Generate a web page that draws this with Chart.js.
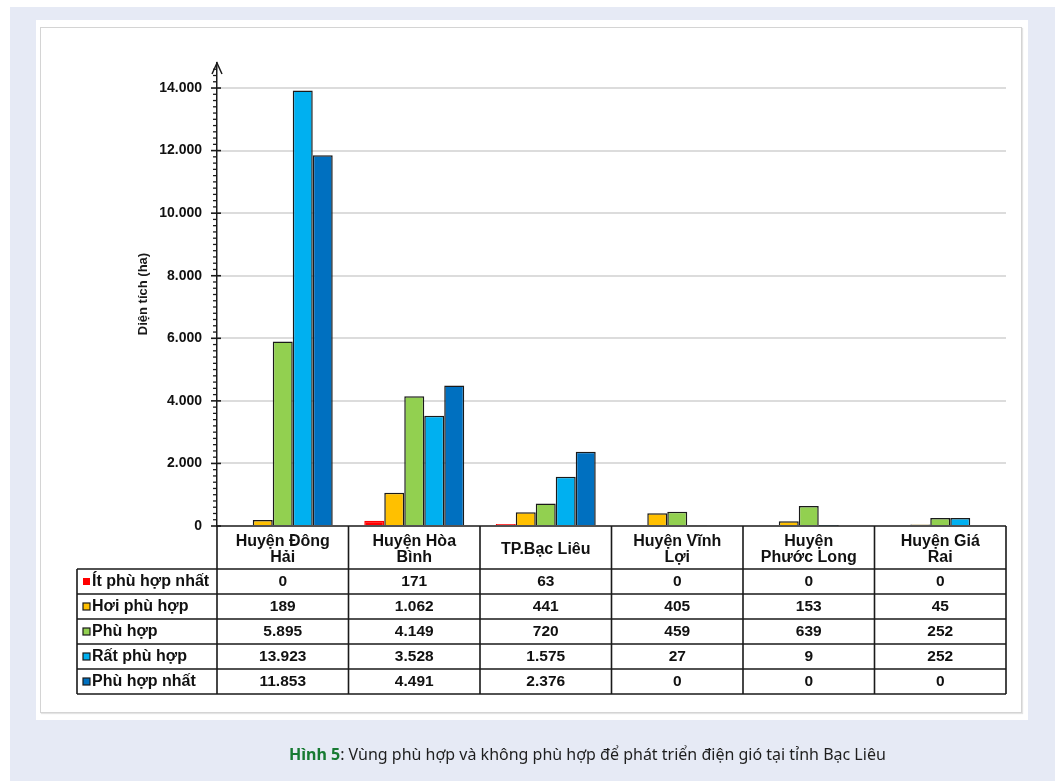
<!DOCTYPE html>
<html lang="vi">
<head>
<meta charset="utf-8">
<title>Diện tích phù hợp phát triển điện gió – Bạc Liêu</title>
<script src="https://cdn.jsdelivr.net/npm/chart.js@4.4.1/dist/chart.umd.min.js"></script>
<style>
  html, body { margin: 0; padding: 0; background: #ffffff; }
  body { width: 1058px; height: 781px; position: relative; overflow: hidden; }
  #page { position: absolute; left: 10px; top: 7px; width: 1045px; height: 774px; background: #e6eaf5; }
  #panel { position: absolute; left: 36px; top: 20px; width: 992px; height: 700px; background: #ffffff; }
  #frame { position: absolute; left: 40px; top: 27px; width: 980px; height: 684px; border: 1px solid #d4d4d4; box-shadow: 1px 1px 1px #e4e4e4; }
  #chartBox { position: absolute; left: 0; top: 0; width: 1058px; height: 781px; }
  #caption { position: absolute; left: 289px; top: 743px; font-family: "Noto Sans", "Open Sans", sans-serif; font-size: 16px; color: #1e1e1e; white-space: nowrap; }
  #caption b { color: #177a32; }
</style>
</head>
<body>
<div id="page"></div>
<div id="panel"></div>
<div id="frame"></div>
<div id="chartBox"><canvas id="chart" width="1058" height="781"></canvas></div>
<div id="caption"><b>Hình 5</b>: Vùng phù hợp và không phù hợp để phát triển điện gió tại tỉnh Bạc Liêu</div>
<script>
// Districts (table columns) – "\n" splits the header into two lines
const categories = ['Huyện Đông\nHải', 'Huyện Hòa\nBình', 'TP.Bạc Liêu', 'Huyện Vĩnh\nLợi', 'Huyện\nPhước Long', 'Huyện Giá\nRai'];

// Suitability classes
const seriesNames = ['Ít phù hợp nhất', 'Hơi phù hợp', 'Phù hợp', 'Rất phù hợp', 'Phù hợp nhất'];

// Area (ha) per class, one value per district
const itPhuHopNhat = [0, 171, 63, 0, 0, 0];
const hoiPhuHop    = [189, 1062, 441, 405, 153, 45];
const phuHop       = [5895, 4149, 720, 459, 639, 252];
const ratPhuHop    = [13923, 3528, 1575, 27, 9, 252];
const phuHopNhat   = [11853, 4491, 2376, 0, 0, 0];

// Labelled y-axis ticks
const yTickLabels = [0, 2000, 4000, 6000, 8000, 10000, 12000, 14000];

const seriesValues = [itPhuHopNhat, hoiPhuHop, phuHop, ratPhuHop, phuHopNhat];
const seriesColors = ['#ff0000', '#ffc000', '#92d050', '#00b0f0', '#0070c0'];
const seriesBorders = ['#ff0000', '#1a1a1a', '#1a1a1a', '#1a1a1a', '#1a1a1a'];

const fmt = v => String(v).replace(/\B(?=(\d{3})+(?!\d))/g, '.');

const FONT = '"Liberation Sans", Arial, sans-serif';
const LINE = '#1a1a1a';

const tablePlugin = {
  id: 'dataTable',
  afterDraw(chart) {
    const { ctx, chartArea } = chart;
    const xs = chart.scales.x, ys = chart.scales.y;
    const n = categories.length;
    const colW = (xs.right - xs.left) / n;
    const top = chartArea.bottom;
    const headerBottom = top + 43;
    const rowH = 25;
    const labelLeft = 77;
    const bottom = headerBottom + rowH * seriesNames.length;
    const left = xs.left, right = xs.right;

    ctx.save();

    // Y-axis arrow head
    ctx.strokeStyle = LINE;
    ctx.lineWidth = 1.5;
    ctx.beginPath();
    ctx.moveTo(left - 5, chartArea.top + 11);
    ctx.lineTo(left, chartArea.top);
    ctx.lineTo(left + 5, chartArea.top + 11);
    ctx.stroke();

    // Minor and major tick marks on the y axis
    for (let v = 0; v <= 14600; v += 200) {
      const y = ys.getPixelForValue(v);
      ctx.beginPath();
      if (v % 2000 === 0) { ctx.moveTo(left - 6, y); ctx.lineTo(left + 4, y); }
      else { ctx.moveTo(left - 4, y); ctx.lineTo(left, y); }
      ctx.lineWidth = v % 2000 === 0 ? 1.6 : 1.3;
      ctx.stroke();
    }

    // Y-axis title
    ctx.save();
    ctx.translate(143, 294);
    ctx.rotate(-Math.PI / 2);
    ctx.fillStyle = '#1a1a1a';
    ctx.font = 'bold 13px ' + FONT;
    ctx.textAlign = 'center';
    ctx.textBaseline = 'middle';
    ctx.fillText('Diện tích (ha)', 0, 0);
    ctx.restore();

    // Table grid
    ctx.strokeStyle = LINE;
    ctx.lineWidth = 1.6;
    ctx.beginPath();
    ctx.moveTo(left, top); ctx.lineTo(right, top);
    for (let r = 0; r <= seriesNames.length; r++) {
      const y = headerBottom + r * rowH;
      ctx.moveTo(labelLeft, y); ctx.lineTo(right, y);
    }
    for (let c = 0; c <= n; c++) {
      const x = left + c * colW;
      ctx.moveTo(x, top); ctx.lineTo(x, bottom);
    }
    ctx.moveTo(labelLeft, headerBottom); ctx.lineTo(labelLeft, bottom);
    ctx.stroke();

    ctx.fillStyle = '#111';
    ctx.textBaseline = 'middle';

    // Header: district names
    ctx.font = 'bold 16px ' + FONT;
    ctx.textAlign = 'center';
    categories.forEach((name, i) => {
      const cx = xs.getPixelForValue(i);
      const lines = name.split('\n');
      const mid = (top + headerBottom) / 2 + 2;
      lines.forEach((ln, k) => {
        const y = mid + (k - (lines.length - 1) / 2) * 16;
        ctx.fillText(ln, cx, y);
      });
    });

    // Rows: legend key + values
    seriesNames.forEach((name, r) => {
      const cy = headerBottom + r * rowH + rowH / 2 + 0.5;
      // key square
      ctx.fillStyle = seriesColors[r];
      ctx.fillRect(83, cy - 4, 7, 7);
      if (r > 0) {
        ctx.strokeStyle = LINE;
        ctx.lineWidth = 1.2;
        ctx.strokeRect(83, cy - 4, 7, 7);
      }
      ctx.fillStyle = '#111';
      ctx.font = 'bold 16px ' + FONT;
      ctx.textAlign = 'left';
      ctx.fillText(name, 92, cy);
      ctx.font = 'bold 15.5px ' + FONT;
      ctx.textAlign = 'center';
      seriesValues[r].forEach((v, i) => {
        ctx.fillText(fmt(v), xs.getPixelForValue(i), cy);
      });
    });

    ctx.restore();
  }
};

new Chart(document.getElementById('chart'), {
  type: 'bar',
  data: {
    labels: categories.map(c => c.replace('\n', ' ')),
    datasets: seriesNames.map((name, i) => ({
      label: name,
      data: seriesValues[i],
      backgroundColor: seriesColors[i],
      borderColor: seriesBorders[i],
      borderWidth: 1.5,
      categoryPercentage: 0.76,
      barPercentage: 1.0
    }))
  },
  options: {
    responsive: false,
    animation: false,
    events: [],
    layout: { padding: { left: 0, top: 63, right: 1058 - 1006, bottom: 781 - 526 } },
    plugins: { legend: { display: false }, tooltip: { enabled: false } },
    scales: {
      x: { display: false },
      y: {
        min: 0,
        max: 14800,
        afterFit(scale) { scale.width = 217; },
        afterBuildTicks(scale) {
          const t = [];
          for (let v = 0; v <= 14800; v += 200) t.push({ value: v });
          scale.ticks = t;
        },
        ticks: {
          autoSkip: false,
          padding: 15,
          color: '#111',
          font: { family: FONT, size: 14, weight: 'bold' },
          callback: v => (yTickLabels.includes(v) ? fmt(v) : '')
        },
        grid: {
          drawTicks: false,
          lineWidth: 2,
          color: c => (c.tick && c.tick.value > 0 && yTickLabels.includes(c.tick.value)) ? '#dcdcdc' : 'rgba(0,0,0,0)'
        },
        border: { display: true, color: LINE, width: 1.5 }
      }
    }
  },
  plugins: [tablePlugin]
});
</script>
</body>
</html>
